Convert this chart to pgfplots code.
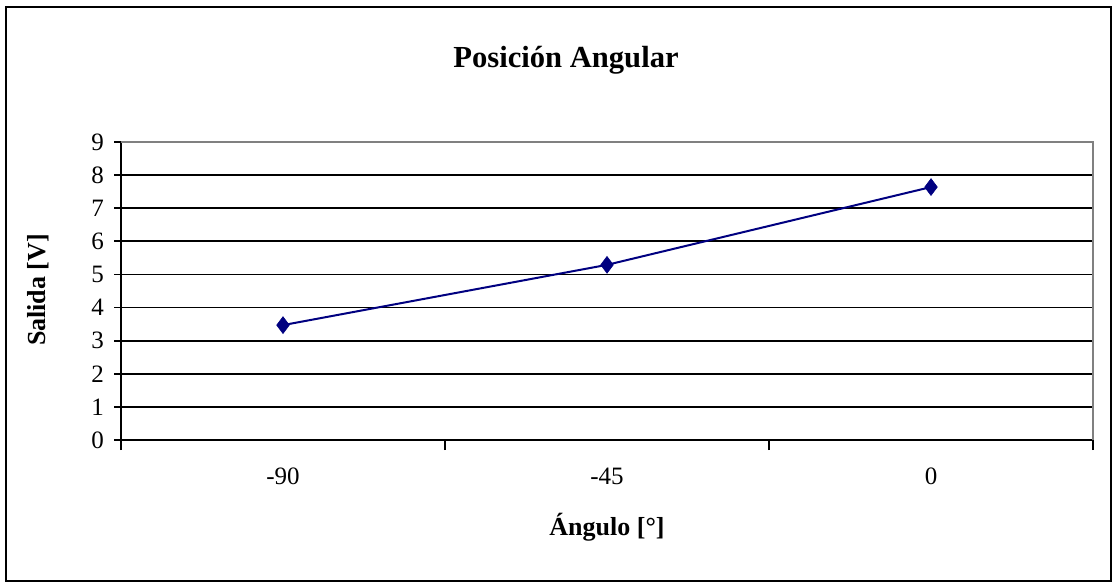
\documentclass[border=0pt]{standalone}
\usepackage{pgfplots}
\pgfplotsset{compat=1.18}
\usepackage{fontspec}
\setmainfont{Liberation Serif}
\definecolor{navy}{HTML}{000080}
\definecolor{bordergray}{HTML}{808080}
\begin{document}
\begin{tikzpicture}[x=0.5pt,y=-0.5pt]
\useasboundingbox (0,0) rectangle (1112,582);
\draw[black,line width=1pt] (6,7) rectangle (1111,581);
\begin{axis}[
  at={(60.5pt,-220pt)}, anchor=south west,
  scale only axis, width=486pt, height=149pt,
  xmin=-0.5, xmax=2.5, ymin=0, ymax=9,
  xtick={0,1,2}, xticklabels={-90,-45,0},
  ytick={0,1,...,9},
  axis lines*=left,
  axis line style={line width=0.9pt, black},
  every x tick/.style={draw=none},
  extra x ticks={-0.5,0.5,1.5,2.5}, extra x tick labels={},
  extra x tick style={every x tick/.style={black,line width=0.9pt}, major tick length=5pt, tick align=outside},
  y tick style={black,line width=0.9pt},
  major tick length=3.5pt, tick align=outside,
  ymajorgrids, grid style={black,line width=0.9pt},
  ticklabel style={font=\fontsize{12.5}{14}\selectfont},
  /pgf/number format/assume math mode=true,
  xticklabel style={yshift=-7pt},
  yticklabel style={xshift=-1.5pt},
  clip=false,
]
\addplot[navy, line width=1pt, mark=diamond*, mark size=4.2pt, mark options={fill=navy,draw=navy,line width=0.3pt}]
  coordinates {(0,3.47) (1,5.29) (2,7.64)};
\draw[bordergray,line width=1pt] (rel axis cs:0,1) -- (rel axis cs:1,1) -- (rel axis cs:1,0);
\end{axis}
\node[font=\bfseries\fontsize{15.3}{18}\selectfont] at (566,60) {Posición Angular};
\node[font=\bfseries\fontsize{13}{15}\selectfont] at (607,527) {Ángulo [°]};
\node[font=\bfseries\fontsize{13}{15}\selectfont,rotate=90] at (38,290) {Salida [V]};
\end{tikzpicture}
\end{document}
